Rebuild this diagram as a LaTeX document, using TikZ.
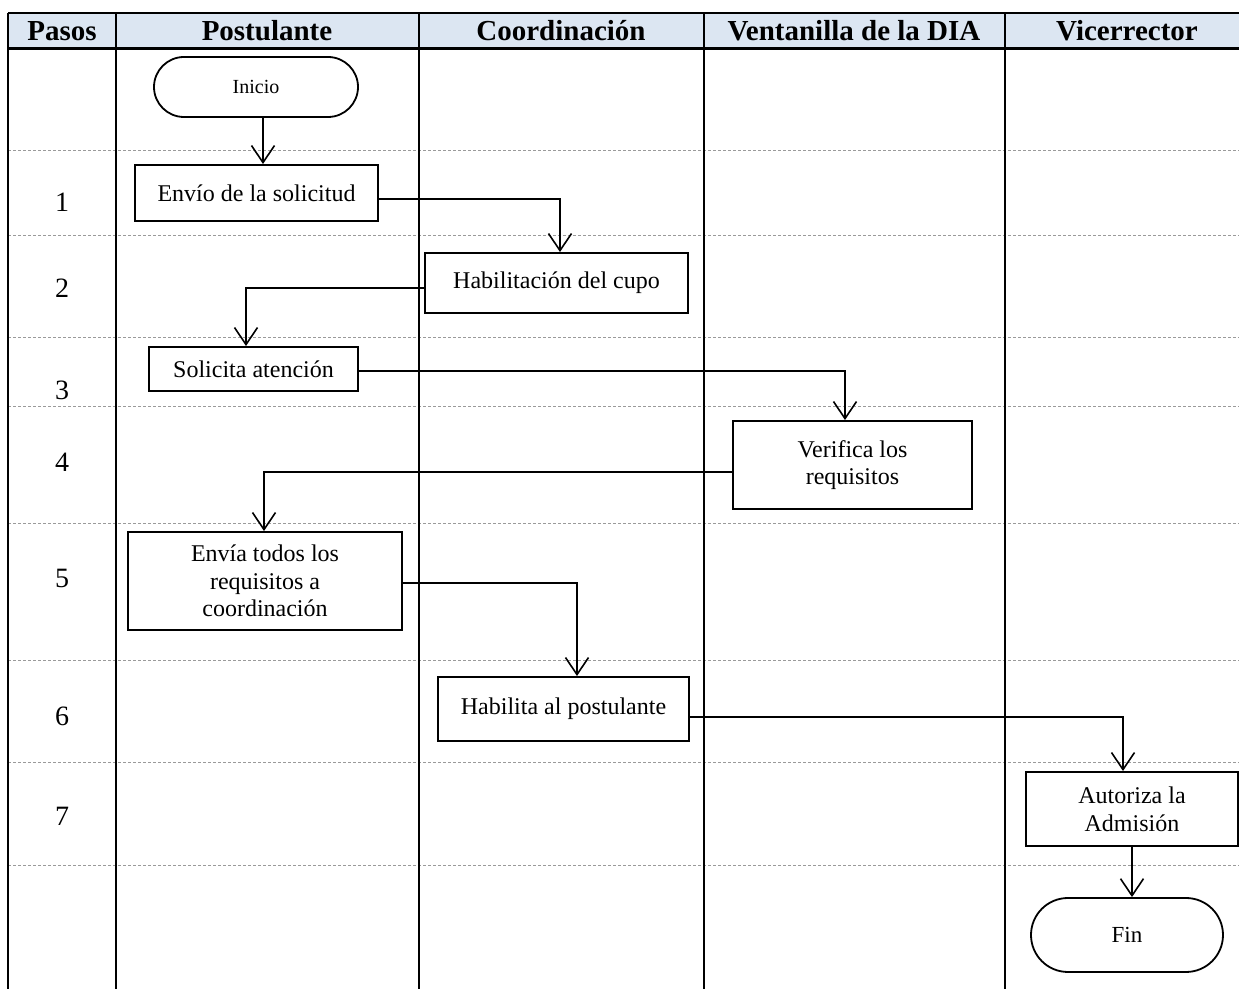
\documentclass[tikz,border=0pt]{standalone}
\usepackage{fontspec}
\setmainfont{Liberation Serif}
\usetikzlibrary{arrows.meta,shapes.misc}
\definecolor{headblue}{HTML}{DCE6F2}
\definecolor{rulegray}{HTML}{9A9A9A}

\begin{document}
\begin{tikzpicture}[x=0.5pt,y=-0.5pt,
  lane/.style={line width=1.2pt},
  stepline/.style={rulegray, line width=0.5pt, dash pattern=on 1.5pt off 1pt},
  head/.style={font=\fontsize{14.5}{16}\selectfont\bfseries},
  num/.style={font=\fontsize{14}{16}\selectfont},
  task/.style={draw, line width=1pt, fill=white, align=center, inner sep=0pt,
               font=\fontsize{12}{13.8}\selectfont},
  term/.style={draw, rounded rectangle, line width=0.9pt, fill=white, inner sep=0pt},
  flow/.style={line width=0.8pt, -{Straight Barb[length=8.5pt,width=11.5pt,line width=0.8pt]}}
]
\useasboundingbox (0,0) rectangle (1239,989);

% header band
\fill[headblue] (8,13) rectangle (1239,49);

% step separators
\foreach \y in {151,236,338,407,524,661,763,866}
  \draw[stepline] (8,\y) -- (1239,\y);

% frame and lanes
\draw[lane] (8,13) -- (1239,13);
\draw[line width=1.5pt] (8,49) -- (1239,49);
\foreach \x in {8,116,419,704,1005}
  \draw[lane] (\x,13) -- (\x,989);

% header labels
\node[head] (hPasos) at (62,31) {Pasos};
\node[head] (hPost) at (267,31) {Postulante};
\node[head] (hCoord) at (561,31) {Coordinación};
\node[head] (hVent) at (854,31) {Ventanilla de la DIA};
\node[head] (hVice) at (1127,31) {Vicerrector};

% step numbers
\node[num] (n1) at (62,202) {1};
\node[num] (n2) at (62,288) {2};
\node[num] (n3) at (62,390) {3};
\node[num] (n4) at (62,462) {4};
\node[num] (n5) at (62,578) {5};
\node[num] (n6) at (62,716) {6};
\node[num] (n7) at (62,816) {7};

% flow elements
\node[term, minimum width=102pt, minimum height=30pt, font=\fontsize{10}{12}\selectfont]
  (inicio) at (256,87) {Inicio};
\node[task, minimum width=121.5pt, minimum height=28pt] (envio) at (256.5,193) {Envío de la solicitud};
\node[task, minimum width=131.5pt, minimum height=30pt] (hab) at (556.5,283) {Habilitación del cupo};
\node[task, minimum width=104.5pt, minimum height=22pt] (solic) at (253.5,369) {Solicita atención};
\node[task, minimum width=119.5pt, minimum height=44pt] (verif) at (852.5,465) {Verifica los\\requisitos};
\node[task, minimum width=137pt, minimum height=49pt] (envia) at (265,581) {Envía todos los\\requisitos a\\coordinación};
\node[task, minimum width=125.5pt, minimum height=32pt] (habpos) at (563.5,709) {Habilita al postulante};
\node[task, minimum width=106pt, minimum height=37pt] (autor) at (1132,809) {Autoriza la\\Admisión};
\node[term, minimum width=96pt, minimum height=37pt, font=\fontsize{11.5}{13}\selectfont]
  (fin) at (1127,935) {Fin};

% connectors
\draw[flow] ([xshift=3.5pt]inicio.south) -- ([xshift=3.5pt]inicio.south |- envio.north);
\draw[flow] ([yshift=-3pt]envio.east) -| ([xshift=1.75pt]hab.north);
\draw[flow] ([yshift=-2.5pt]hab.west) -| ([xshift=-3.75pt]solic.north);
\draw[flow] ([yshift=-1pt]solic.east) -| ([xshift=-3.75pt]verif.north);
\draw[flow] ([yshift=-3.5pt]verif.west) -| ([xshift=-0.5pt]envia.north);
\draw[flow] ([yshift=-1pt]envia.east) -| ([xshift=6.75pt]habpos.north);
\draw[flow] ([yshift=-4pt]habpos.east) -| ([xshift=-4.5pt]autor.north);
\draw[flow] (autor.south) -- (autor.south |- fin.north);

\end{tikzpicture}
\end{document}
